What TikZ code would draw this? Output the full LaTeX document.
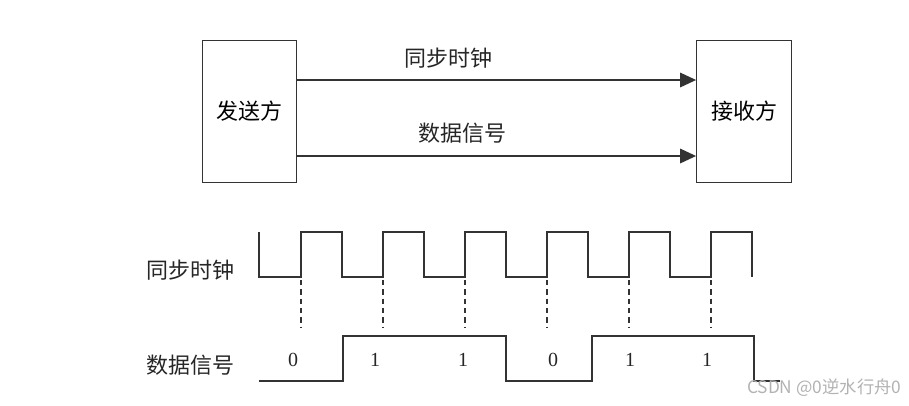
\documentclass[tikz,border=0pt]{standalone}
\usepackage{fontspec}
\setmainfont{Liberation Serif}
\newfontfamily\cjk{Noto Sans CJK SC}
\usepackage{tikz}
\usetikzlibrary{arrows.meta}

\begin{document}
\begin{tikzpicture}[x=0.75pt, y=-0.75pt,
    party/.style={draw=black!80, line width=0.9pt, minimum width=71pt, minimum height=107pt, inner sep=0pt, font=\cjk\fontsize{16.5}{16.5}\selectfont},
    lbl/.style={font=\cjk\fontsize{16.5}{16.5}\selectfont, text=black!85},
    bit/.style={font=\fontsize{15}{15}\selectfont, text=black!85},
    link/.style={draw=black!80, line width=0.9pt, -{Triangle[length=12pt,width=11pt]}},
    wave/.style={draw=black!80, line width=0.9pt},
    tick/.style={draw=black!80, line width=0.9pt, dash pattern=on 4pt off 3pt}
]
\useasboundingbox (0,0) rectangle (909,405);

% Sender and receiver
\node[party] (sender) at (249.5,111.5) {发送方};
\node[party] (receiver) at (744,111.5) {接收方};
\coordinate (clkrow) at (0,80);
\coordinate (datarow) at (0,156);
\draw[link] (sender.east |- clkrow) -- (receiver.west |- clkrow);
\draw[link] (sender.east |- datarow) -- (receiver.west |- datarow);
\node[lbl] (clktext) at (448,58) {同步时钟};
\node[lbl] (datatext) at (462,133) {数据信号};

% Timing
\node[lbl] (clkname) at (190,270) {同步时钟};
\node[lbl] (dataname) at (190,365) {数据信号};
\draw[wave] (259,232) -- (259,277)
    foreach \x in {301,383,465,547,629,711} { -- (\x,277) -- (\x,232) -- (\x+41,232) -- (\x+41,277) };
\foreach \x in {301,383,465,547,629,711}
    \draw[tick] (\x,280) -- (\x,328);
\draw[wave] (259,381) -- (343,381) -- (343,336) -- (506,336) -- (506,381)
    -- (592,381) -- (592,336) -- (754,336) -- (754,381) -- (780,381);
\node[bit] (b1) at (293,360) {0};
\node[bit] (b2) at (375,360) {1};
\node[bit] (b3) at (463,360) {1};
\node[bit] (b4) at (553,360) {0};
\node[bit] (b5) at (630,360) {1};
\node[bit] (b6) at (707,360) {1};

\node[font=\cjk\fontsize{13}{13}\selectfont, text=black!30, anchor=east] (mark) at (906,388) {CSDN @0逆水行舟0};
\end{tikzpicture}
\end{document}
